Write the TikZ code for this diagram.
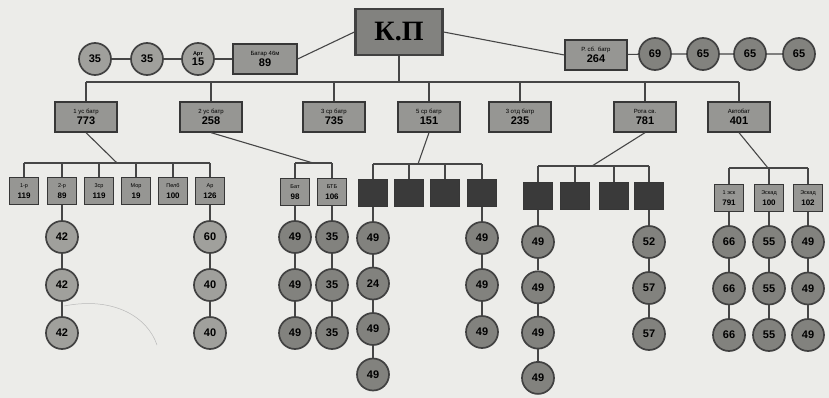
\documentclass[tikz,border=0pt]{standalone}
\usepackage{fontspec}
\setmainfont{Liberation Sans}
\newfontfamily\kpfont{Liberation Serif}
\definecolor{bgc}{RGB}{236,236,233}
\definecolor{linec}{RGB}{70,70,70}
\definecolor{ballc}{RGB}{160,160,156}
\definecolor{balld}{RGB}{130,130,126}
\definecolor{rimc}{RGB}{65,65,65}
\definecolor{boxc}{RGB}{150,150,147}
\definecolor{boxb}{RGB}{55,55,55}
\definecolor{darkc}{RGB}{58,58,58}
\definecolor{kpc}{RGB}{130,130,127}
\tikzset{
  ln/.style={draw=linec, line width=1.1pt},
  ball/.style={circle, draw=rimc, line width=1.7pt, fill=ballc, minimum size=32pt, inner sep=0pt, align=center, font=\fontsize{11}{11}\selectfont\bfseries},
  dball/.style={ball, fill=balld},
  unitbox/.style={rectangle, draw=boxb, line width=1.3pt, fill=boxc, minimum width=62pt, minimum height=30pt, inner sep=0pt, align=center},
  subbox/.style={unitbox, minimum width=29pt, minimum height=27pt},
  darkbox/.style={subbox, fill=darkc},
}
\newcommand{\lbl}[2]{{\fontsize{6}{6.5}\selectfont #1}\\[-0.5pt]{\fontsize{11}{11}\selectfont\bfseries #2}}
\newcommand{\slbl}[2]{{\fontsize{5.5}{6}\selectfont #1}\\[-0.5pt]{\fontsize{8}{8}\selectfont\bfseries #2}}
\begin{document}
\begin{tikzpicture}[x=1pt,y=-1pt]
\fill[bgc] (0,0) rectangle (829,398);
\useasboundingbox (0,0) rectangle (829,398);

% command post
\node[unitbox, fill=kpc, line width=2.2pt, draw=rimc, minimum width=87pt, minimum height=46pt, font=\kpfont\fontsize{28}{28}\selectfont\bfseries] (kp) at (399,32) {К.П};

% top left chain
\node[unitbox, minimum width=64pt] (lt) at (265,59) {\lbl{Батар 46м}{89}};
\node[ball] (l3) at (198,59) {{\fontsize{5.5}{6}\selectfont Арт}\\[-1pt]15};
\node[ball] (l2) at (147,59) {35};
\node[ball] (l1) at (95,59) {35};
\draw[ln] (l1) -- (l2) -- (l3) -- (lt);
\draw[ln] (lt.east) -- (kp.west);

% top right chain
\node[unitbox] (rt) at (596,55) {\lbl{Р. сб. батр}{264}};
\node[dball] (r1) at (655,54) {69};
\node[dball] (r2) at (703,54) {65};
\node[dball] (r3) at (750,54) {65};
\node[dball] (r4) at (799,54) {65};
\draw[ln] (rt) -- (r1) -- (r2) -- (r3) -- (r4);
\draw[ln] (kp.east) -- (rt.west);

% level 2
\node[unitbox] (b1) at (86,117) {\lbl{1 ус батр}{773}};
\node[unitbox] (b2) at (211,117) {\lbl{2 ус батр}{258}};
\node[unitbox] (b3) at (334,117) {\lbl{3 ср батр}{735}};
\node[unitbox] (b4) at (429,117) {\lbl{5 ср батр}{151}};
\node[unitbox] (b5) at (520,117) {\lbl{3 отд батр}{235}};
\node[unitbox] (b6) at (645,117) {\lbl{Рота св.}{781}};
\node[unitbox] (b7) at (739,117) {\lbl{Автобат}{401}};
\coordinate (bus) at (399,82);
\draw[ln] (kp.south) -- (kp.south |- bus);
\draw[ln] (b1.north |- bus) -- (b7.north |- bus);
\foreach \b in {b1,b2,b3,b4,b5,b6,b7} \draw[ln] (\b.north) -- (\b.north |- bus);

% group A
\coordinate (ga) at (117,163);
\node[subbox] (a1) at (24,191) {\slbl{1-р}{119}};
\node[subbox] (a2) at (62,191) {\slbl{2-р}{89}};
\node[subbox] (a3) at (99,191) {\slbl{3ср}{119}};
\node[subbox] (a4) at (136,191) {\slbl{Мор}{19}};
\node[subbox] (a5) at (173,191) {\slbl{Пелб}{100}};
\node[subbox] (a6) at (210,191) {\slbl{Ар}{126}};
\draw[ln] (b1.south) -- (ga);
\draw[ln] (a1.north |- ga) -- (a6.north |- ga);
\foreach \b in {a1,a2,a3,a4,a5,a6} \draw[ln] (\b.north) -- (\b.north |- ga);
\foreach \t [count=\k] in {42,42,42} \node[ball] (a2c\k) at (62,{237+48*(\k-1)}) {\t};
\draw[ln] (a2) -- (a2c1) -- (a2c2) -- (a2c3);
\foreach \t [count=\k] in {60,40,40} \node[ball] (a6c\k) at (210,{237+48*(\k-1)}) {\t};
\draw[ln] (a6) -- (a6c1) -- (a6c2) -- (a6c3);
\coordinate (pen1) at (64,306);
\coordinate (pen2) at (157,345);
\draw[gray!55, line width=0.5pt] (pen1) .. controls (115,296) and (148,318) .. (pen2);

% group B
\coordinate (gb) at (313,163);
\node[subbox] (bb1) at (295,192) {\slbl{Бат}{98}};
\node[subbox] (bb2) at (332,192) {\slbl{БТБ}{106}};
\draw[ln] (b2.south) -- (gb);
\draw[ln] (bb1.north |- gb) -- (bb2.north |- gb);
\foreach \b in {bb1,bb2} \draw[ln] (\b.north) -- (\b.north |- gb);
\foreach \t [count=\k] in {49,49,49} \node[dball] (bb1c\k) at (295,{237+48*(\k-1)}) {\t};
\draw[ln] (bb1) -- (bb1c1) -- (bb1c2) -- (bb1c3);
\foreach \t [count=\k] in {35,35,35} \node[dball] (bb2c\k) at (332,{237+48*(\k-1)}) {\t};
\draw[ln] (bb2) -- (bb2c1) -- (bb2c2) -- (bb2c3);

% group C
\coordinate (gc) at (418,164);
\node[darkbox] (c1) at (373,193) {};
\node[darkbox] (c2) at (409,193) {};
\node[darkbox] (c3) at (445,193) {};
\node[darkbox] (c4) at (482,193) {};
\draw[ln] (b4.south) -- (gc);
\draw[ln] (c1.north |- gc) -- (c4.north |- gc);
\foreach \b in {c1,c2,c3,c4} \draw[ln] (\b.north) -- (\b.north |- gc);
\foreach \t [count=\k] in {49,24,49,49} \node[dball] (c1c\k) at (373,{238+45.5*(\k-1)}) {\t};
\draw[ln] (c1) -- (c1c1) -- (c1c2) -- (c1c3) -- (c1c4);
\foreach \t [count=\k] in {49,49,49} \node[dball] (c4c\k) at (482,{238+47*(\k-1)}) {\t};
\draw[ln] (c4) -- (c4c1) -- (c4c2) -- (c4c3);

% group D
\coordinate (gd) at (592,166);
\node[darkbox] (d1) at (538,196) {};
\node[darkbox] (d2) at (575,196) {};
\node[darkbox] (d3) at (614,196) {};
\node[darkbox] (d4) at (649,196) {};
\draw[ln] (b6.south) -- (gd);
\draw[ln] (d1.north |- gd) -- (d4.north |- gd);
\foreach \b in {d1,d2,d3,d4} \draw[ln] (\b.north) -- (\b.north |- gd);
\foreach \t [count=\k] in {49,49,49,49} \node[dball] (d1c\k) at (538,{242+45.3*(\k-1)}) {\t};
\draw[ln] (d1) -- (d1c1) -- (d1c2) -- (d1c3) -- (d1c4);
\foreach \t [count=\k] in {52,57,57} \node[dball] (d4c\k) at (649,{242+46*(\k-1)}) {\t};
\draw[ln] (d4) -- (d4c1) -- (d4c2) -- (d4c3);

% group E
\coordinate (ge) at (768,168);
\node[subbox] (e1) at (729,198) {\slbl{1 эск}{791}};
\node[subbox] (e2) at (769,198) {\slbl{Эскад}{100}};
\node[subbox] (e3) at (808,198) {\slbl{Эскад}{102}};
\draw[ln] (b7.south) -- (ge);
\draw[ln] (e1.north |- ge) -- (e3.north |- ge);
\foreach \b in {e1,e2,e3} \draw[ln] (\b.north) -- (\b.north |- ge);
\foreach \t [count=\k] in {66,66,66} \node[dball] (e1c\k) at (729,{242+46.5*(\k-1)}) {\t};
\draw[ln] (e1) -- (e1c1) -- (e1c2) -- (e1c3);
\foreach \t [count=\k] in {55,55,55} \node[dball] (e2c\k) at (769,{242+46.5*(\k-1)}) {\t};
\draw[ln] (e2) -- (e2c1) -- (e2c2) -- (e2c3);
\foreach \t [count=\k] in {49,49,49} \node[dball] (e3c\k) at (808,{242+46.5*(\k-1)}) {\t};
\draw[ln] (e3) -- (e3c1) -- (e3c2) -- (e3c3);
\end{tikzpicture}
\end{document}
